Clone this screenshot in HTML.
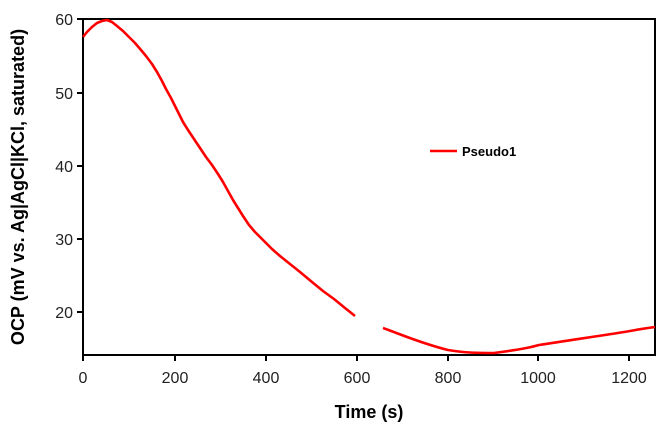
<!DOCTYPE html>
<html><head><style>body{margin:0;background:#fff;}svg{display:block;font-family:"Liberation Sans",sans-serif;}</style></head>
<body>
<svg width="664" height="427" viewBox="0 0 664 427">
<rect x="83" y="19" width="572" height="336" fill="none" stroke="#000" stroke-width="2"/>
<g stroke="#000" stroke-width="2">
<line x1="77" y1="19" x2="83" y2="19"/><line x1="77" y1="93" x2="83" y2="93"/><line x1="77" y1="166" x2="83" y2="166"/><line x1="77" y1="239" x2="83" y2="239"/><line x1="77" y1="312" x2="83" y2="312"/>
<line x1="83" y1="355" x2="83" y2="361"/><line x1="175" y1="355" x2="175" y2="361"/><line x1="266" y1="355" x2="266" y2="361"/><line x1="357" y1="355" x2="357" y2="361"/><line x1="448" y1="355" x2="448" y2="361"/><line x1="538" y1="355" x2="538" y2="361"/><line x1="629" y1="355" x2="629" y2="361"/>
</g>
<g font-size="16" fill="#222" text-anchor="end">
<text x="73" y="25">60</text><text x="73" y="99">50</text><text x="73" y="172">40</text><text x="73" y="245">30</text><text x="73" y="318">20</text>
</g>
<g font-size="16" fill="#222" text-anchor="middle">
<text x="83" y="383">0</text><text x="175" y="383">200</text><text x="266" y="383">400</text><text x="357" y="383">600</text><text x="448" y="383">800</text><text x="538" y="383">1000</text><text x="629" y="383">1200</text>
</g>
<text x="369" y="418" font-size="18" font-weight="bold" text-anchor="middle">Time (s)</text>
<text transform="translate(24,187) rotate(-90)" font-size="18" font-weight="bold" text-anchor="middle">OCP (mV vs. Ag|AgCl|KCl, saturated)</text>
<g fill="none" stroke="#f00" stroke-width="2.6" stroke-linejoin="round">
<polyline points="83,37 87,32 92,27 97,23 102,21 107,20 112,22 117,26 123,31 129,37 135,43 141,50 146,56 152,64 157,72 162,81 166,89 171,98 175,106 179,114 183,122 188,130 194,139 200,148 206,157 212,165 218,174 223,182 228,191 233,200 238,208 243,216 249,225 255,232 261,238 266,243 272,249 280,256 290,264 300,272 312,282 323,291 334,299 345,308 355,316"/>
<path d="M383,328 C400,334 420,343 448,350 C465,353 480,353 494,353 C510,351 525,349 539,345 C570,340 600,336 630,331 C640,329 648,328 655,327"/>
</g>
<line x1="430" y1="151" x2="457" y2="151" stroke="#f00" stroke-width="2.6"/>
<text x="462" y="156" font-size="13" font-weight="bold">Pseudo1</text>
</svg>
</body></html>
